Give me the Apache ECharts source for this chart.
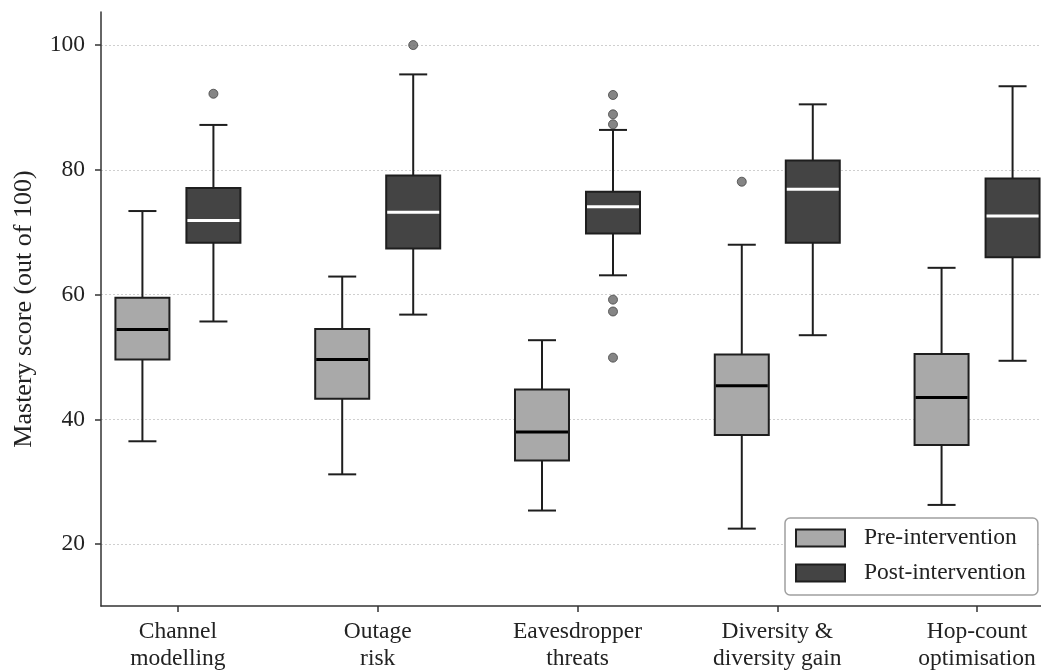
<!DOCTYPE html>
<html>
<head>
<meta charset="utf-8">
<script src="https://cdn.jsdelivr.net/npm/echarts@6/dist/echarts.min.js"></script>
<style>
  html, body { margin: 0; padding: 0; background: #fff; }
  #chart { width: 1041px; height: 672px; }
</style>
</head>
<body>
<div id="chart"></div>
<script>
var categories = ['Channel\nmodelling', 'Outage\nrisk', 'Eavesdropper\nthreats', 'Diversity &\ndiversity gain', 'Hop-count\noptimisation'];
var yTicks = [20, 40, 60, 80, 100];

// [whisker low, Q1, median, Q3, whisker high]
var preStats = [
  [36.5, 49.6, 54.4, 59.5, 73.4],
  [31.2, 43.3, 49.6, 54.5, 62.9],
  [25.4, 33.4, 38.0, 44.8, 52.7],
  [22.5, 37.5, 45.4, 50.4, 68.0],
  [26.3, 35.9, 43.5, 50.5, 64.3]
];
var postStats = [
  [55.7, 68.3, 71.9, 77.1, 87.2],
  [56.8, 67.4, 73.2, 79.1, 95.3],
  [63.1, 69.8, 74.1, 76.5, 86.4],
  [53.5, 68.3, 76.9, 81.5, 90.5],
  [49.4, 66.0, 72.6, 78.6, 93.4]
];
// [category index, value]
var preOutliers = [[3, 78.1]];
var postOutliers = [[0, 92.2], [1, 100.0], [2, 92.0], [2, 88.9], [2, 87.3], [2, 59.2], [2, 57.3], [2, 49.9]];

var font = 'Liberation Serif';
var textColor = '#222';
var edgeColor = '#1e1e1e';
var preColor = '#a9a9a9';
var postColor = '#444444';
var halfGap = 35.5;   // px from category centre to each box centre
var boxHalf = 27;
var capHalf = 14;

function withIndex(stats) {
  return stats.map(function (s, i) { return [i].concat(s); });
}

function boxRenderer(offset, fill, medianColor) {
  return function (params, api) {
    var cx = api.coord([api.value(0), 0])[0] + offset;
    var lo = api.coord([0, api.value(1)])[1];
    var q1 = api.coord([0, api.value(2)])[1];
    var med = api.coord([0, api.value(3)])[1];
    var q3 = api.coord([0, api.value(4)])[1];
    var hi = api.coord([0, api.value(5)])[1];
    var lineStyle = { stroke: edgeColor, lineWidth: 2 };
    return {
      type: 'group',
      children: [
        { type: 'line', shape: { x1: cx, y1: hi, x2: cx, y2: q3 }, style: lineStyle },
        { type: 'line', shape: { x1: cx, y1: q1, x2: cx, y2: lo }, style: lineStyle },
        { type: 'line', shape: { x1: cx - capHalf, y1: hi, x2: cx + capHalf, y2: hi }, style: lineStyle },
        { type: 'line', shape: { x1: cx - capHalf, y1: lo, x2: cx + capHalf, y2: lo }, style: lineStyle },
        { type: 'rect', shape: { x: cx - boxHalf, y: q3, width: boxHalf * 2, height: q1 - q3 },
          style: { fill: fill, stroke: edgeColor, lineWidth: 2 } },
        { type: 'line', shape: { x1: cx - boxHalf + 1, y1: med, x2: cx + boxHalf - 1, y2: med },
          style: { stroke: medianColor, lineWidth: 3 } }
      ]
    };
  };
}

var chart = echarts.init(document.getElementById('chart'), null, { renderer: 'canvas' });

chart.setOption({
  backgroundColor: '#fff',
  animation: false,
  textStyle: { fontFamily: font, color: textColor },
  grid: { left: 101, right: 0, top: 12, bottom: 65, containLabel: false },
  legend: {
    orient: 'vertical',
    left: 785,
    top: 518,
    padding: [8, 12, 10, 10],
    itemWidth: 49,
    itemHeight: 17,
    itemGap: 11,
    backgroundColor: '#fff',
    borderColor: '#a0a0a0',
    borderWidth: 1.5,
    borderRadius: 5,
    textStyle: { fontFamily: font, fontSize: 23.5, color: textColor, padding: [0, 0, 0, 14] },
    data: [
      { name: 'Pre-intervention', icon: 'rect', itemStyle: { color: preColor, borderColor: edgeColor, borderWidth: 2 } },
      { name: 'Post-intervention', icon: 'rect', itemStyle: { color: postColor, borderColor: edgeColor, borderWidth: 2 } }
    ]
  },
  xAxis: {
    type: 'value',
    min: -0.385,
    max: 4.32,
    axisLine: { show: true, onZero: false, lineStyle: { color: '#333', width: 1.5 } },
    axisTick: { show: true, length: 6, lineStyle: { color: '#333', width: 1.5 }, customValues: [0, 1, 2, 3, 4] },
    axisLabel: {
      customValues: [0, 1, 2, 3, 4],
      formatter: function (v) { return categories[Math.round(v)]; },
      fontFamily: font, fontSize: 23.5, color: textColor, lineHeight: 27, margin: 12
    },
    splitLine: { show: false }
  },
  yAxis: {
    type: 'value',
    min: 10.1,
    max: 105.3,
    name: 'Mastery score (out of 100)',
    nameLocation: 'middle',
    nameGap: 64,
    nameTextStyle: { fontFamily: font, fontSize: 26, color: textColor },
    axisLine: { show: true, onZero: false, lineStyle: { color: '#333', width: 1.5 } },
    axisTick: { show: true, length: 6, lineStyle: { color: '#333', width: 1.5 }, customValues: yTicks },
    axisLabel: { customValues: yTicks, fontFamily: font, fontSize: 23.5, color: textColor, margin: 16 },
    splitLine: { show: true, lineStyle: { color: '#cfcfcf', type: [2, 2], width: 1 } }
  },
  series: [
    {
      name: 'Pre-intervention',
      type: 'custom',
      itemStyle: { color: preColor, borderColor: edgeColor, borderWidth: 2 },
      encode: { x: 0, y: [1, 2, 3, 4, 5] },
      data: withIndex(preStats),
      renderItem: boxRenderer(-halfGap, preColor, '#000')
    },
    {
      name: 'Post-intervention',
      type: 'custom',
      itemStyle: { color: postColor, borderColor: edgeColor, borderWidth: 2 },
      encode: { x: 0, y: [1, 2, 3, 4, 5] },
      data: withIndex(postStats),
      renderItem: boxRenderer(halfGap, postColor, '#fff')
    },
    {
      type: 'scatter',
      data: preOutliers,
      symbolSize: 9,
      symbolOffset: [-halfGap, 0],
      itemStyle: { color: '#666', borderColor: '#444', borderWidth: 1 }
    },
    {
      type: 'scatter',
      data: postOutliers,
      symbolSize: 9,
      symbolOffset: [halfGap, 0],
      itemStyle: { color: '#666', borderColor: '#444', borderWidth: 1 }
    }
  ]
});
</script>
</body>
</html>
